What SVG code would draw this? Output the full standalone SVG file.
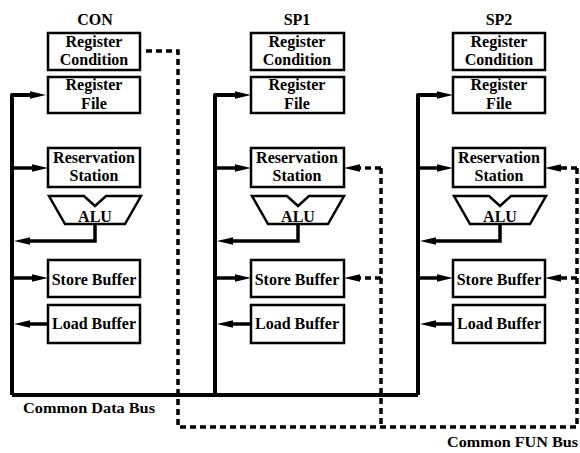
<svg xmlns="http://www.w3.org/2000/svg" width="580" height="453" viewBox="0 0 580 453">
  <defs>
    <marker id="head" markerUnits="userSpaceOnUse" viewBox="0 0 16 8" refX="6" refY="4" markerWidth="16" markerHeight="8" orient="auto">
      <path d="M0,0.3 L16,4 L0,7.7 Z" fill="#000"/>
    </marker>
    <style>
      .box { fill: #fff; stroke: #000; stroke-width: 2.5; }
      .alu { fill: #fff; stroke: #000; stroke-width: 2.5; stroke-linejoin: miter; }
      .t { font-family: "Liberation Serif", "Times New Roman", serif; font-weight: bold; font-size: 16px; fill: #000; text-anchor: middle; }
      .lbl { font-family: "Liberation Serif", "Times New Roman", serif; font-weight: bold; font-size: 14px; fill: #000; }
      .bus { fill: none; stroke: #000; stroke-width: 4; stroke-linejoin: round; }
      .arr { fill: none; stroke: #000; stroke-width: 3.5; marker-end: url(#head); }
      .fun { fill: none; stroke: #000; stroke-width: 3.5; stroke-dasharray: 6 4; }
      .funarr { fill: none; stroke: #000; stroke-width: 3.5; stroke-dasharray: 6 4; marker-end: url(#head); }
    </style>
  </defs>

  <!-- Common Data Bus and local data paths -->
  <g id="connectors">
    <path class="bus" d="M12,395 L418,395"/>
    <path class="bus" d="M12,395 L12,95 L36,95" marker-end="url(#head)"/>
    <path class="bus" d="M215,395 L215,95 L241,95" marker-end="url(#head)"/>
    <path class="bus" d="M418,395 L418,95 L443,95" marker-end="url(#head)"/>

    <path class="arr" d="M12,168 L38,168"/>
    <path class="arr" d="M215,168 L241,168"/>
    <path class="arr" d="M418,168 L443,168"/>

    <path class="arr" d="M12,278 L38,278"/>
    <path class="arr" d="M215,278 L241,278"/>
    <path class="arr" d="M418,278 L443,278"/>

    <path class="arr" d="M95,224 L95,241 L24,241"/>
    <path class="arr" d="M298,224 L298,241 L227,241"/>
    <path class="arr" d="M500,224 L500,241 L430,241"/>

    <path class="arr" d="M48,324 L24,324"/>
    <path class="arr" d="M251,324 L227,324"/>
    <path class="arr" d="M453,324 L430,324"/>

    <!-- Common FUN Bus -->
    <path class="fun" d="M146,51 L178,51 L178,427 L580,427"/>
    <path class="fun" d="M381,168 L381,427"/>
    <path class="fun" d="M577,168 L577,427"/>
    <path class="funarr" d="M381,168 L354,168"/>
    <path class="funarr" d="M381,278 L354,278"/>
    <path class="funarr" d="M577,168 L555,168"/>
    <path class="funarr" d="M577,278 L555,278"/>
  </g>

  <!-- CON -->
  <g id="con">
    <text class="t" x="95" y="25">CON</text>
    <g id="con-regcond"><rect class="box" x="48" y="33" width="92" height="37"/><text class="t" x="94" y="47">Register</text><text class="t" x="94" y="65">Condition</text></g>
    <g id="con-regfile"><rect class="box" x="48" y="77" width="92" height="36"/><text class="t" x="94" y="90">Register</text><text class="t" x="94" y="108.5">File</text></g>
    <g id="con-rs"><rect class="box" x="48" y="148" width="92" height="39"/><text class="t" x="94" y="163">Reservation</text><text class="t" x="94" y="181">Station</text></g>
    <g id="con-alu"><path class="alu" d="M49,196 L84,196 L95,206 L106,196 L141,196 L125,224 L65,224 Z"/><text class="t" x="95" y="222">ALU</text></g>
    <g id="con-sb"><rect class="box" x="48" y="260" width="92" height="37"/><text class="t" x="94" y="285">Store Buffer</text></g>
    <g id="con-lb"><rect class="box" x="48" y="305" width="92" height="38"/><text class="t" x="94" y="329">Load Buffer</text></g>
  </g>

  <!-- SP1 -->
  <g id="sp1">
    <text class="t" x="297" y="25">SP1</text>
    <g id="sp1-regcond"><rect class="box" x="251" y="33" width="93" height="37"/><text class="t" x="297" y="47">Register</text><text class="t" x="297" y="65">Condition</text></g>
    <g id="sp1-regfile"><rect class="box" x="251" y="77" width="93" height="36"/><text class="t" x="297" y="90">Register</text><text class="t" x="297" y="108.5">File</text></g>
    <g id="sp1-rs"><rect class="box" x="251" y="148" width="93" height="39"/><text class="t" x="297" y="163">Reservation</text><text class="t" x="297" y="181">Station</text></g>
    <g id="sp1-alu"><path class="alu" d="M252,196 L287,196 L298,206 L309,196 L344,196 L328,224 L268,224 Z"/><text class="t" x="298" y="222">ALU</text></g>
    <g id="sp1-sb"><rect class="box" x="251" y="260" width="93" height="37"/><text class="t" x="297" y="285">Store Buffer</text></g>
    <g id="sp1-lb"><rect class="box" x="251" y="305" width="93" height="38"/><text class="t" x="297" y="329">Load Buffer</text></g>
  </g>

  <!-- SP2 -->
  <g id="sp2">
    <text class="t" x="499" y="25">SP2</text>
    <g id="sp2-regcond"><rect class="box" x="453" y="33" width="92" height="37"/><text class="t" x="499" y="47">Register</text><text class="t" x="499" y="65">Condition</text></g>
    <g id="sp2-regfile"><rect class="box" x="453" y="77" width="92" height="36"/><text class="t" x="499" y="90">Register</text><text class="t" x="499" y="108.5">File</text></g>
    <g id="sp2-rs"><rect class="box" x="453" y="148" width="92" height="39"/><text class="t" x="499" y="163">Reservation</text><text class="t" x="499" y="181">Station</text></g>
    <g id="sp2-alu"><path class="alu" d="M454,196 L489,196 L500,206 L511,196 L546,196 L530,224 L470,224 Z"/><text class="t" x="500" y="222">ALU</text></g>
    <g id="sp2-sb"><rect class="box" x="453" y="260" width="92" height="37"/><text class="t" x="499" y="285">Store Buffer</text></g>
    <g id="sp2-lb"><rect class="box" x="453" y="305" width="92" height="38"/><text class="t" x="499" y="329">Load Buffer</text></g>
  </g>

  <!-- bus labels -->
  <text class="lbl" x="23" y="413" textLength="132" lengthAdjust="spacingAndGlyphs">Common Data Bus</text>
  <text class="lbl" x="447" y="447" textLength="131" lengthAdjust="spacingAndGlyphs">Common FUN Bus</text>
</svg>
